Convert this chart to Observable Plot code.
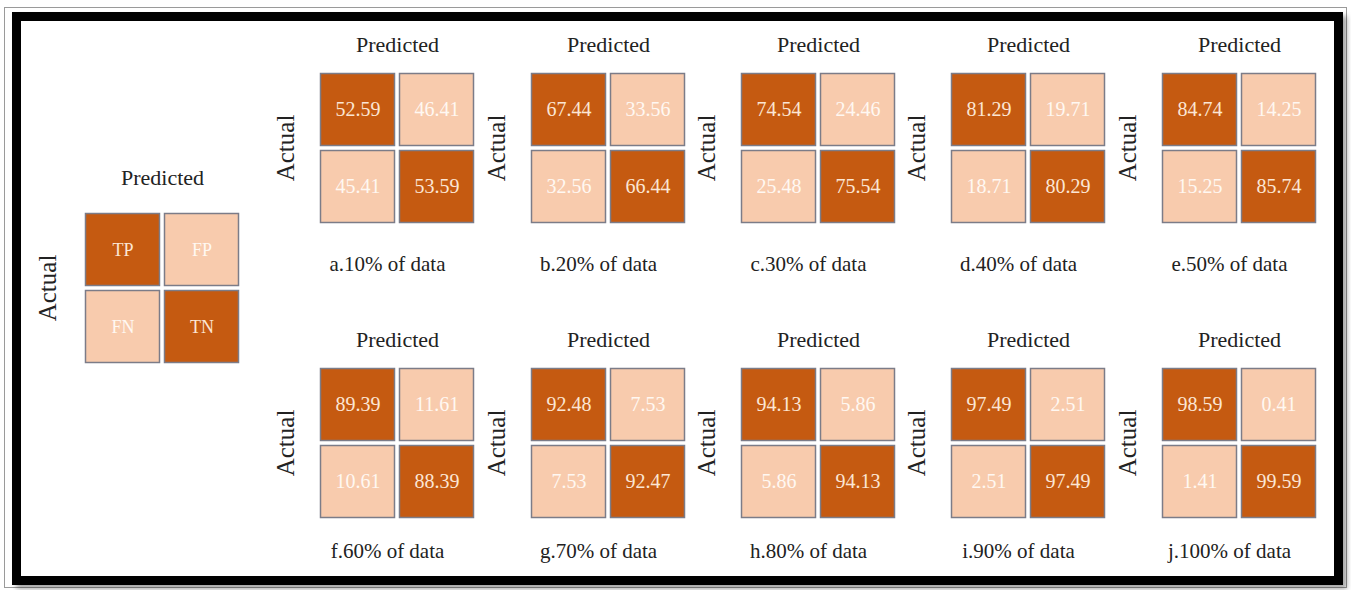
<!DOCTYPE html>
<html>
<head>
<meta charset="utf-8">
<script src="https://cdn.jsdelivr.net/npm/d3@7"></script>
<script src="https://cdn.jsdelivr.net/npm/@observablehq/plot@0.6"></script>
<style>
html, body { margin: 0; padding: 0; background: #fff; }
#page { position: relative; width: 1351px; height: 590px; overflow: hidden; background: #fff; }
#outer { position: absolute; left: 4px; top: 7px; width: 1343px; height: 581px; border: 1px solid #9a9a9a; box-sizing: border-box; }
#frame { position: absolute; left: 12px; top: 12px; width: 1331px; height: 573px; border: 9px solid #000; box-sizing: border-box; box-shadow: 4px 4px 5px rgba(0,0,0,0.35); }
.panel { position: absolute; }
.panel svg { overflow: visible; }
</style>
</head>
<body>
<div id="page"><div id="outer"></div><div id="frame"></div></div>
<script>
// ---- data ----
const captions = ["a.10% of data", "b.20% of data", "c.30% of data", "d.40% of data", "e.50% of data",
                  "f.60% of data", "g.70% of data", "h.80% of data", "i.90% of data", "j.100% of data"];
const tpValues = [52.59, 67.44, 74.54, 81.29, 84.74, 89.39, 92.48, 94.13, 97.49, 98.59];
const fpValues = [46.41, 33.56, 24.46, 19.71, 14.25, 11.61, 7.53, 5.86, 2.51, 0.41];
const fnValues = [45.41, 32.56, 25.48, 18.71, 15.25, 10.61, 7.53, 5.86, 2.51, 1.41];
const tnValues = [53.59, 66.44, 75.54, 80.29, 85.74, 88.39, 92.47, 94.13, 97.49, 99.59];
const legendLabels = ["TP", "FP", "FN", "TN"];
const classes = ["Positive", "Negative"];
const predictedLabel = "Predicted";
const actualLabel = "Actual";

// ---- style ----
const FONT = "'Liberation Serif', 'Times New Roman', serif";
const DARK = "#C55A11", LIGHT = "#F8CBAD";
const M = {left: 45, top: 42, right: 10, bottom: 55};
const INNER_W = 158, INNER_H = 155;

function cellsOf(labels) {
  return [
    {pred: classes[0], actual: classes[0], label: labels[0], kind: "correct"},
    {pred: classes[1], actual: classes[0], label: labels[1], kind: "error"},
    {pred: classes[0], actual: classes[1], label: labels[2], kind: "error"},
    {pred: classes[1], actual: classes[1], label: labels[3], kind: "correct"}
  ];
}

function panel(labels, caption, matrixLeft, matrixTop, predDy, actDx, capDy, numSize) {
  const data = cellsOf(labels);
  const chart = Plot.plot({
    width: M.left + INNER_W + M.right,
    height: M.top + INNER_H + M.bottom,
    marginLeft: M.left, marginTop: M.top, marginRight: M.right, marginBottom: M.bottom,
    style: {fontFamily: FONT, background: "transparent"},
    x: {domain: classes, axis: null, padding: 0},
    y: {domain: classes, axis: null, padding: 0},
    color: {domain: ["correct", "error"], range: [DARK, LIGHT]},
    marks: [
      Plot.cell(data, {x: "pred", y: "actual", fill: "kind", inset: 2.5, stroke: "#7c7c88", strokeWidth: 1.5}),
      Plot.text(data, {x: "pred", y: "actual", text: "label", filter: d => d.kind === "correct",
        fill: "#FCE6D4", fontSize: numSize, fontFamily: FONT}),
      Plot.text(data, {x: "pred", y: "actual", text: "label", filter: d => d.kind === "error",
        fill: "#FFF8F2", fontSize: numSize, fontFamily: FONT}),
      Plot.text([predictedLabel], {text: d => d, frameAnchor: "top", lineAnchor: "middle", dy: predDy,
        fontSize: 22, fill: "#222", fontFamily: FONT}),
      Plot.text([actualLabel], {text: d => d, frameAnchor: "left", textAnchor: "middle", lineAnchor: "middle",
        rotate: -90, dx: actDx, fontSize: 25, fill: "#222", fontFamily: FONT}),
      caption ? Plot.text([caption], {text: d => d, frameAnchor: "bottom", lineAnchor: "middle", dy: capDy, dx: -10,
        fontSize: 21, fill: "#222", fontFamily: FONT}) : null
    ]
  });
  const div = document.createElement("div");
  div.className = "panel";
  div.style.left = (matrixLeft - 2.5 - M.left) + "px";
  div.style.top = (matrixTop - 2.5 - M.top) + "px";
  div.appendChild(chart);
  document.getElementById("page").appendChild(div);
}

// legend (key) panel
panel(legendLabels, null, 85, 212, -33, -36, 0, 18);

// ten result panels
const fmt = d3.format(".2f");
const colLefts = [320, 531, 741.5, 951, 1162];
const rowTops = [72.5, 367.5];
captions.forEach((cap, i) => {
  const row = Math.floor(i / 5), col = i % 5;
  const labels = [fmt(tpValues[i]), fmt(fpValues[i]), fmt(fnValues[i]), fmt(tnValues[i])];
  panel(labels, cap, colLefts[col], rowTops[row], row === 0 ? -26 : -26, -33, row === 0 ? 39 : 31, 20);
});
</script>
</body>
</html>
